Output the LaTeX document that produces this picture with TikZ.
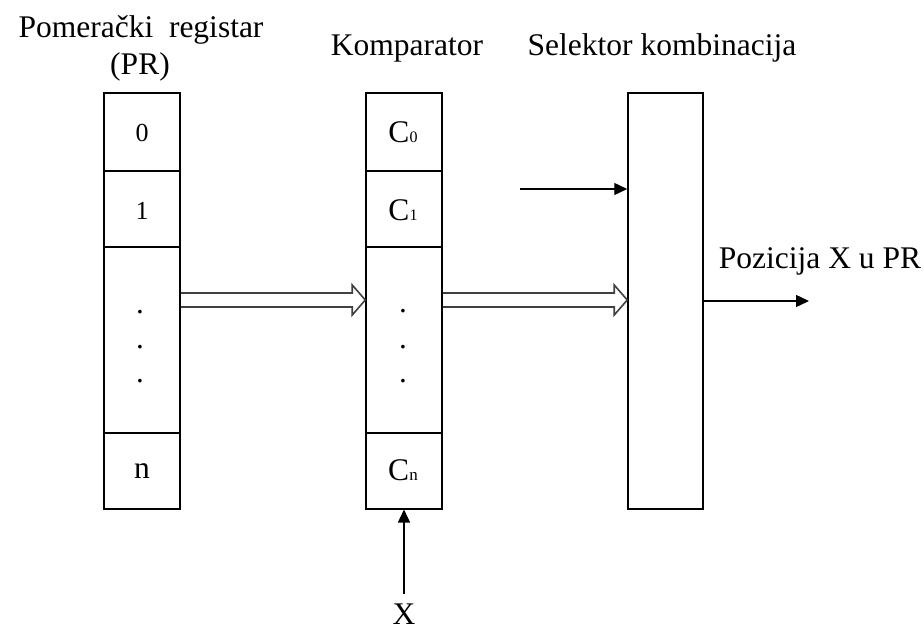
\documentclass[tikz,border=0pt]{standalone}
\usepackage{fontspec}
\setmainfont{Liberation Serif}
\usetikzlibrary{arrows.meta,calc}
\begin{document}
\begin{tikzpicture}[x=1pt,y=-1pt,
  cell/.style={draw=black,line width=1.5pt,minimum width=76pt,inner sep=0pt,anchor=north},
  lbl/.style={font=\fontsize{31.5}{31.5}\selectfont,inner sep=0pt,anchor=base},
  inl/.style={font=\fontsize{26}{26}\selectfont,inner sep=0pt},
  dotl/.style={font=\fontsize{31}{31}\selectfont,inner sep=0pt,anchor=base},
  arr/.style={line width=1.4pt,-{Triangle[length=13pt,width=12pt]}},
  dbl/.style={line width=1.6pt,draw=black!75,line join=miter}
]
\useasboundingbox (0,0) rectangle (924,630);

% register cells
\node[cell,minimum height=78pt] (pr0) at (142,92) {};
\node[cell,minimum height=76pt] (pr1) at (142,170) {};
\node[cell,minimum height=186pt] (prd) at (142,246) {};
\node[cell,minimum height=76pt] (prn) at (142,432) {};
% comparator cells
\node[cell,minimum height=78pt] (c0) at (404,92) {};
\node[cell,minimum height=76pt] (c1) at (404,170) {};
\node[cell,minimum height=186pt] (cd) at (404,246) {};
\node[cell,minimum height=76pt] (cn) at (404,432) {};
% selector
\node[cell,minimum width=75pt,minimum height=416pt] (sel) at (665.5,92) {};

% titles
\node[lbl] (t1) at (141,37) {Pomerački\ \ registar};
\node[lbl] (t2) at (140,74) {(PR)};
\node[lbl] (t3) at (407,55) {Komparator};
\node[lbl] (t4) at (662,55) {Selektor kombinacija};
\node[lbl] (t5) at (820,268) {Pozicija X u PR};

% cell labels
\node[inl] (l0) at (142,133) {0};
\node[inl] (l1) at (142,211) {1};
\node[lbl] (ln) at (142,478) {n};
\node[lbl] (lc0) at (403,142) {C{\fontsize{16}{16}\selectfont 0}};
\node[lbl] (lc1) at (403,220) {C{\fontsize{16}{16}\selectfont 1}};
\node[lbl] (lcn) at (403,480) {C{\fontsize{17}{17}\selectfont n}};

% dots
\node[dotl] (d1) at (140,313.5) {.};
\node[dotl] (d2) at (140,348.5) {.};
\node[dotl] (d3) at (140,382.5) {.};
\node[dotl] (e1) at (403,312.5) {.};
\node[dotl] (e2) at (403,348.5) {.};
\node[dotl] (e3) at (403,382.5) {.};

% hollow double arrows
\coordinate (a1) at ($(prd.north east)+(0,54)$);
\coordinate (b1) at ($(cd.north west)+(0,54)$);
\coordinate (a2) at ($(cd.north east)+(0,54)$);
\coordinate (b2) at ($(sel.north west)+(0,208)$);
\foreach \s/\t in {a1/b1,a2/b2}{
  \draw[dbl] ($(\s)+(0,-7)$) -- ($(\t)+(-13,-7)$) -- ($(\t)+(-13,-15)$) -- (\t)
     -- ($(\t)+(-13,15)$) -- ($(\t)+(-13,7)$) -- ($(\s)+(0,7)$);
}

% input arrow to selector
\coordinate (in) at (520,189);
\draw[arr] (in) -- (in -| sel.west);

% output arrow
\coordinate (out) at (809,301);
\draw[arr] (out -| sel.east) -- (out);

% X input
\node[lbl] (x) at (404,624) {X};
\draw[arr] ($(x.north)+(0,-9)$) -- (cn.south);
\end{tikzpicture}
\end{document}
